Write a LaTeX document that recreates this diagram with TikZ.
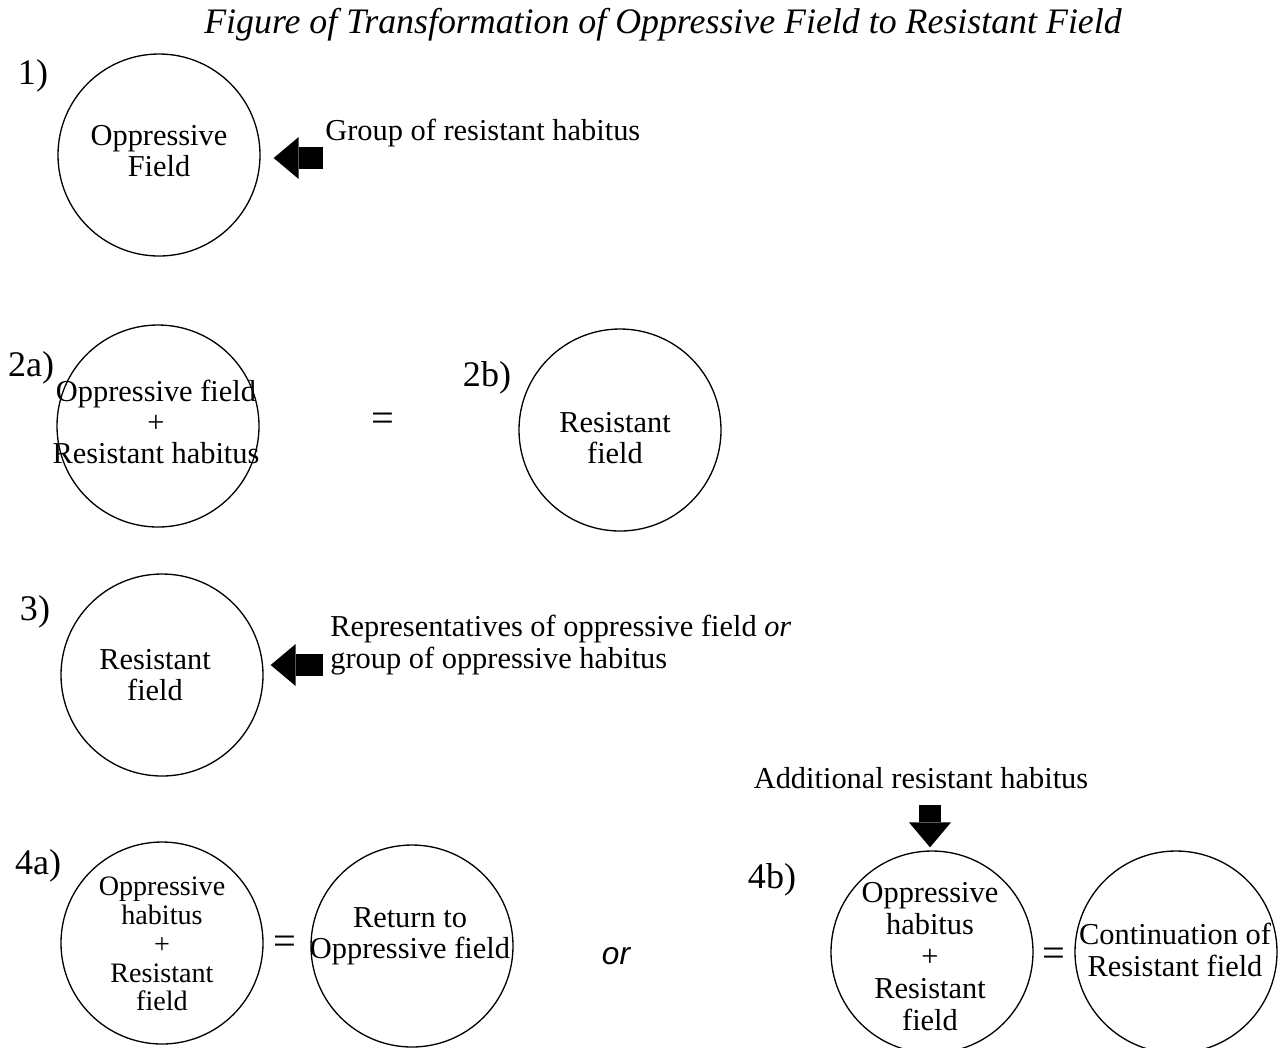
\documentclass[tikz,border=0pt]{standalone}
\usepackage{fontspec}
\setmainfont{Liberation Serif}
\newfontfamily\orfont{Liberation Sans}
\usetikzlibrary{arrows.meta,positioning}

\begin{document}
\begin{tikzpicture}[x=0.2mm,y=-0.2mm,
  field/.style={draw,circle,line width=0.75pt,minimum size=40.4mm,inner sep=0pt},
  ftext/.style={align=center,font=\fontsize{17.3}{17.8}\selectfont,inner sep=0pt},
  note/.style={anchor=west,align=left,font=\fontsize{17.3}{18.5}\selectfont,inner sep=0pt},
  stage/.style={font=\fontsize{20.5}{22}\selectfont,inner sep=0pt},
  eq/.style={font=\fontsize{23}{24}\selectfont,inner sep=0pt},
  push/.style={line width=4.3mm,-{Triangle[length=5mm,width=8.4mm,line width=0pt]}}
]
\useasboundingbox (0,0) rectangle (1286,1047);
\node[font=\fontsize{20.4}{22}\selectfont\itshape] (title) at (663,25) {Figure of Transformation of Oppressive Field to Resistant Field};

\node[stage] (s1) at (33,76) {1)};
\node[field] (c1) at (159,155) {};
\node[ftext] (t1) at (159,151) {Oppressive\\Field};
\node[note] (n1) at (325,133) {Group of resistant habitus};
\coordinate (a1) at (323,158);
\draw[push,shorten >=2.6mm] (a1) -- (a1 -| c1.east);

\node[stage] (s2a) at (31,368) {2a)};
\node[field] (c2a) at (158,426) {};
\node[ftext] (t2a) at (156,422) {Oppressive field\\+\\Resistant habitus};
\node[eq] (e2) at (383,422) {=};
\node[stage] (s2b) at (487,378) {2b)};
\node[field] (c2b) at (620,430) {};
\node[ftext] (t2b) at (615,438) {Resistant\\field};

\node[stage] (s3) at (35,612) {3)};
\node[field] (c3) at (162,675) {};
\node[ftext] (t3) at (155,675) {Resistant\\field};
\node[note] (n3) at (330,645) {Representatives of oppressive field \textit{or}\\group of oppressive habitus};
\coordinate (a3) at (323,665);
\draw[push,shorten >=1.4mm] (a3) -- (a3 -| c3.east);

\node[stage] (s4a) at (38,866) {4a)};
\node[field] (c4a) at (162,943) {};
\node[ftext,font=\fontsize{16}{16.4}\selectfont] (t4a) at (162,944) {Oppressive\\habitus\\+\\Resistant\\field};
\node[eq] (e4a) at (285,945) {=};
\node[field] (c4r) at (412,946) {};
\node[ftext] (t4r) at (410,936) {Return to\\Oppressive field};
\node[font=\fontsize{18}{20}\selectfont\orfont\itshape,inner sep=0pt] (or) at (616,956) {or};

\node[note,anchor=center] (n4) at (921,778) {Additional resistant habitus};
\coordinate (a4) at (930,805);
\node[stage] (s4b) at (772,880) {4b)};
\node[field] (c4b) at (932,952) {};
\node[ftext,font=\fontsize{17.3}{18.2}\selectfont] (t4b) at (930,957) {Oppressive\\habitus\\+\\Resistant\\field};
\draw[push,shorten >=0.6mm] (a4) -- (a4 |- c4b.north);
\node[eq] (e4b) at (1054,957) {=};
\node[field] (c4c) at (1176,952) {};
\node[ftext] (t4c) at (1175,950) {Continuation of\\Resistant field};
\end{tikzpicture}
\end{document}
